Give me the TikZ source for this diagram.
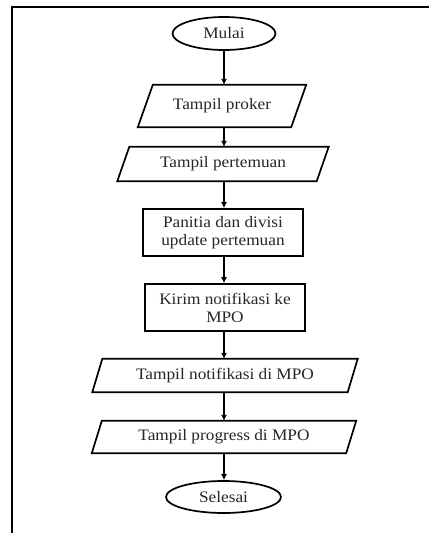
\documentclass[tikz,border=0pt]{standalone}
\usepackage{fontspec}
\setmainfont{Liberation Serif}[FakeStretch=1.08]
\usetikzlibrary{arrows.meta,shapes.geometric}

\tikzset{
  base/.style={draw=black, line width=1.7pt, inner sep=2pt, align=center,
    font=\fontsize{16}{18}\selectfont, text=black!85},
  terminal/.style={base, ellipse},
  process/.style={base, rectangle},
  io/.style={rectangle, inner sep=2pt, align=center,
    font=\fontsize{16}{18}\selectfont, text=black!85},
  ioline/.style={draw=black, line width=1.7pt, line join=miter},
  flow/.style={draw=black, line width=1.1pt, -{Latex[length=6pt,width=6pt]}},
  frame/.style={draw=black, line width=2pt}
}

\begin{document}
\begin{tikzpicture}[x=1pt, y=-1pt]
  \useasboundingbox (0,0) rectangle (429,533);

  % page frame (top and left edges)
  \draw[frame] (429,7) -- (11.5,7) -- (11.5,533);

  % nodes
  \node[terminal, minimum width=103pt, minimum height=33pt] (start) at (224,33.5) {Mulai};
  \node[io, minimum width=153pt, minimum height=42pt] (p1) at (222,106) {Tampil proker};
  \node[io, minimum width=199pt, minimum height=34pt] (p2) at (223,164) {Tampil pertemuan};
  \node[process, minimum width=160pt, minimum height=47pt] (r1) at (223,232.5) {Panitia dan divisi\\update pertemuan};
  \node[process, minimum width=160pt, minimum height=47pt] (r2) at (225,307.5) {Kirim notifikasi ke\\MPO};
  \node[io, minimum width=255pt, minimum height=33pt] (p3) at (225,375.5) {Tampil notifikasi di MPO};
  \node[io, minimum width=254pt, minimum height=32pt] (p4) at (224,437) {Tampil progress di MPO};
  \node[terminal, minimum width=115pt, minimum height=32pt] (stop) at (223.5,497) {Selesai};

  % parallelogram outlines for the input/output steps
  \foreach \n/\s in {p1/7.5, p2/6, p3/5, p4/5}
    \draw[ioline] ([xshift=\s pt]\n.north west) -- ([xshift=\s pt]\n.north east)
      -- ([xshift=-\s pt]\n.south east) -- ([xshift=-\s pt]\n.south west) -- cycle;

  % connectors
  \foreach \a/\b in {start/p1, p1/p2, p2/r1, r1/r2, r2/p3, p3/p4, p4/stop}
    \draw[flow] (\a.south -| 224,0) -- (\b.north -| 224,0);
\end{tikzpicture}
\end{document}
